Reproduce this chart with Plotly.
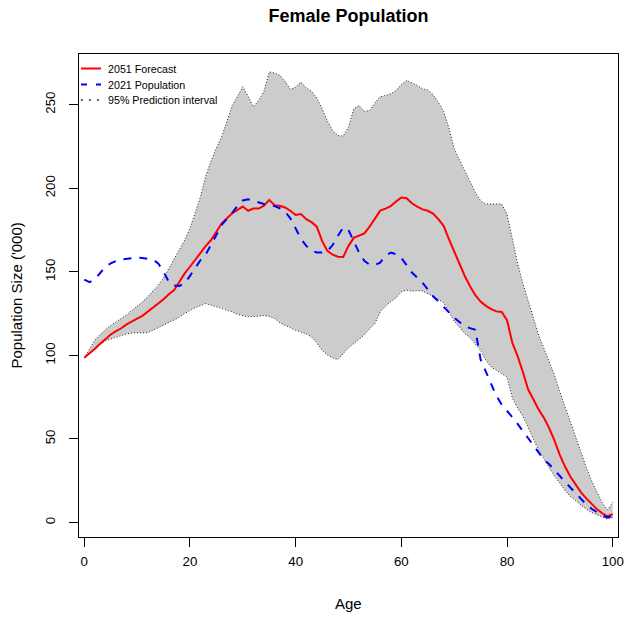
import plotly.graph_objects as go

# ---- data (population in thousands, by single year of age) ----
ages = list(range(0, 101))

forecast_2051 = [
    98.5, 101, 104, 107, 110, 112.5, 114.5, 116.2, 118.5, 120.4,
    122, 123.6, 126, 128.3, 131, 133.5, 136.5, 139, 144, 149,
    153, 157.2, 161.5, 165.5, 169, 174, 179, 182, 185, 187,
    189, 186.5, 187.8, 187.8, 189.5, 193, 189.8, 189.5, 188.5, 186.5,
    184, 184.5, 181.5, 179.7, 177, 168.5, 162.5, 160.2, 159, 158.8,
    165.5, 170.3, 171.5, 173, 177, 181.5, 186.6, 187.8, 189.3, 192,
    194.4, 194, 191, 189, 187.3, 186.5, 184.8, 181.5, 177.5, 169.5,
    162, 154.5, 147.5, 141.3, 136, 132.2, 129.6, 127.6, 126.3, 126,
    121, 107.5, 99.5, 90, 79.5, 73.6, 67.5, 62.5, 56.3, 48.8,
    40.3, 33.3, 27.3, 22.6, 18, 14.4, 10.9, 8, 5.5, 3.7,
    5.0,
]

population_2021 = [
    145.3, 143.8, 145.5, 149.5, 153, 155, 156.4, 157.3, 157.8, 158.4,
    158.6, 158.2, 157.8, 157.3, 155, 150, 144, 141.8, 141.5, 143.2,
    147.5, 152.5, 157, 160.5, 166, 172, 178, 181.5, 185.3, 189.5,
    192.7, 193.4, 192.4, 191.2, 190.5, 190, 189.3, 188, 186, 182,
    175.5, 169.8, 165.5, 162.7, 161.5, 161.5, 162.3, 166, 171.5, 176.5,
    175, 168, 161.5, 156.5, 154.2, 154, 155.5, 159.5, 161.5, 160.5,
    158.2, 154, 149.5, 146.5, 143.5, 139.5, 135.3, 132.3, 129, 126,
    122.5, 120, 117.4, 116.3, 115.3, 97.5, 90, 82.6, 75.6, 70.5,
    67, 63, 59, 54.7, 50, 45.7, 41.5, 37.5, 34.8, 31,
    27.8, 24.2, 20.8, 17.2, 14, 10.8, 8.2, 6, 4.2, 3.0,
    3.9,
]

pi_upper = [
    98.5, 103.5, 109, 112.5, 115.5, 118, 120, 122, 124.2, 126.8,
    129.3, 132, 135, 138.5, 142, 146.3, 152, 158, 163.5, 169,
    176, 186, 195, 207.5, 216.5, 224, 230.8, 240, 249.5, 255,
    260.7, 255, 248.7, 252.5, 258, 269.6, 269, 267.6, 264, 259,
    260.5, 263.5, 260, 258, 254, 247.5, 240.3, 234.4, 231.5, 231.2,
    236.5, 247.5, 249.5, 246, 246.5, 251, 254.7, 255.5, 256.5, 258.5,
    262, 264.5, 263.2, 261.5, 259.5, 258.8, 256, 251.5, 246, 236,
    223.5, 216.5, 210.5, 204, 197.5, 192.5, 190.6, 190.6, 190.6, 190.5,
    184.5, 170, 155, 143, 133, 122, 112, 104, 96, 88,
    78, 69, 59, 50, 41, 33, 25, 18, 12, 7.5,
    12,
]

pi_lower = [
    98.5, 101.5, 103.5, 106.5, 108.7, 109.8, 111, 112, 112.8, 113.4,
    113.4, 113.4, 113.5, 115, 116.5, 118.2, 119.5, 121, 122.8, 125,
    127, 128.5, 129.8, 131, 130, 129, 128.3, 127.3, 126, 124.5,
    123.8, 123, 123.2, 123.6, 123.8, 123.3, 122, 119.5, 117.8, 116.5,
    115, 114, 112.8, 111, 107.5, 103, 100.2, 98.5, 97.5, 101,
    104.5, 107, 109.5, 112.3, 116, 119, 126, 129.5, 132, 134.5,
    138, 139, 138.3, 138.8, 138.5, 137, 135.3, 133.5, 131.5, 126,
    120.5, 117, 113, 110.5, 107, 103, 97, 93, 91, 89,
    87, 74.5, 68.5, 63.6, 56.5, 50, 43, 38, 32.3, 27.5,
    23.5, 19, 15.5, 13, 10.2, 8, 6, 4.5, 3.2, 2.0,
    3.0,
]

x_ticks = [0, 20, 40, 60, 80, 100]
y_ticks = [0, 50, 100, 150, 200, 250]

legend_labels = ["2051 Forecast", "2021 Population", "95% Prediction interval"]

FONT = "Liberation Sans, Arial, Helvetica, sans-serif"
W, H = 627, 617
M_L, M_R, M_T, M_B = 79, 9, 54, 80
PLOT_W = W - M_L - M_R
PLOT_H = H - M_T - M_B

# y limits padded 4% beyond the data range
ymin = min(pi_lower + population_2021 + forecast_2051)
ymax = max(pi_upper + population_2021 + forecast_2051)
pad = 0.04 * (ymax - ymin)
y_range = [ymin - pad, ymax + pad]

fig = go.Figure()

# shaded prediction band
fig.add_trace(go.Scatter(
    x=ages + ages[::-1],
    y=pi_upper + pi_lower[::-1],
    fill="toself", fillcolor="#CCCCCC",
    line=dict(width=0), mode="lines",
    hoverinfo="skip", showlegend=False,
))
# dotted band edges
for edge in (pi_lower, pi_upper):
    fig.add_trace(go.Scatter(
        x=ages, y=edge, mode="lines",
        line=dict(color="#222222", width=1, dash="1px,2px"),
        showlegend=False,
    ))

fig.add_trace(go.Scatter(
    x=ages, y=forecast_2051, mode="lines", name=legend_labels[0],
    line=dict(color="#FF0000", width=2), showlegend=False,
))
fig.add_trace(go.Scatter(
    x=ages, y=population_2021, mode="lines", name=legend_labels[1],
    line=dict(color="#0000FF", width=2, dash="8px,8px"), showlegend=False,
))


def px_to_paper(px, py):
    return (px - M_L) / PLOT_W, (H - M_B - py) / PLOT_H


# legend keys drawn in the top-left corner of the panel
legend_styles = [
    dict(color="#FF0000", width=2),
    dict(color="#0000FF", width=2, dash="6px,9px"),
    dict(color="#000000", width=1.6, dash="1.6px,6.5px"),
]
legend_rows = [68.5, 84.5, 100.0]
for label, style, row in zip(legend_labels, legend_styles, legend_rows):
    x0, y0 = px_to_paper(81, row)
    x1, _ = px_to_paper(101, row)
    xt, _ = px_to_paper(106, row)
    fig.add_shape(type="line", xref="paper", yref="paper",
                  x0=x0, x1=x1, y0=y0, y1=y0, line=style)
    fig.add_annotation(xref="paper", yref="paper", x=xt, y=y0,
                       text=label, showarrow=False, xanchor="left",
                       yanchor="middle", font=dict(size=10.7, color="black"))

# axis titles
ax_x, ax_y = px_to_paper(348.5, 603)
fig.add_annotation(xref="paper", yref="paper", x=0.5, y=ax_y, text="Age",
                   showarrow=False, xanchor="center", yanchor="middle",
                   font=dict(size=15, color="black"))
ay_x, _ = px_to_paper(16, 0)
fig.add_annotation(xref="paper", yref="paper", x=ay_x, y=0.5,
                   text="Population Size ('000)", textangle=-90,
                   showarrow=False, xanchor="center", yanchor="middle",
                   font=dict(size=15, color="black"))

fig.update_layout(
    width=W, height=H,
    margin=dict(l=M_L, r=M_R, t=M_T, b=M_B, autoexpand=False),
    paper_bgcolor="white", plot_bgcolor="white",
    font=dict(family=FONT, color="black", size=13.3),
    title=dict(text="<b>Female Population</b>", x=0.5, xref="paper",
               xanchor="center", y=1 - 16 / H, yref="container",
               yanchor="middle", font=dict(size=18, color="black")),
    showlegend=False,
)
fig.update_xaxes(
    range=[-1, 101], tickvals=x_ticks, ticktext=[str(v) for v in x_ticks],
    ticks="outside", ticklen=9, tickcolor="black", tickwidth=1,
    ticklabelstandoff=3,
    showline=True, linecolor="black", linewidth=1, mirror=True,
    showgrid=False, zeroline=False, tickfont=dict(size=13.3),
)
fig.update_yaxes(
    range=y_range, tickvals=y_ticks, ticktext=[str(v) for v in y_ticks],
    ticks="outside", ticklen=9, tickcolor="black", tickwidth=1,
    tickangle=-90, ticklabelstandoff=9,
    showline=True, linecolor="black", linewidth=1, mirror=True,
    showgrid=False, zeroline=False, tickfont=dict(size=13.3),
)

fig.write_html("out.html")
